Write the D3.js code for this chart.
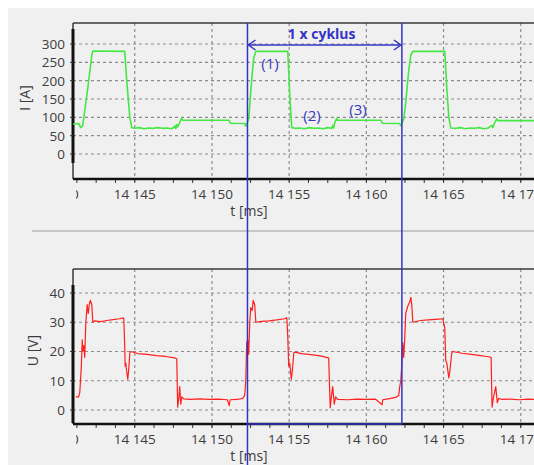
<!DOCTYPE html>
<html>
<head>
<meta charset="utf-8">
<script src="https://d3js.org/d3.v7.min.js"></script>
<style>
  body { margin: 0; background: #fff; }
  svg { display: block; font-family: "Open Sans", sans-serif; }
  .tick-label { font-size: 13.5px; fill: #3c3c3c; }
  .axis-title { font-size: 14px; fill: #3c3c3c; }
  .grid { stroke: #8c8c8c; stroke-width: 1.2; stroke-dasharray: 3,3; }
  .note { fill: #3838c4; font-size: 15px; }
</style>
</head>
<body>
<div id="chart"></div>
<script>
// time axis [ms]
const xTicks = [14140, 14145, 14150, 14155, 14160, 14165, 14170];
const xTickLabels = ["14 140", "14 145", "14 150", "14 155", "14 160", "14 165", "14 170"];

// current I [A]
const iTicks = [0, 50, 100, 150, 200, 250, 300];
const iTime = [
  14141.0, 14141.37, 14141.5, 14141.63, 14141.96, 14142.22, 14142.28, 14144.35, 14144.48, 14144.68, 14144.81,
  14145.0, 14145.3, 14145.6, 14145.9, 14146.2, 14146.5, 14146.8, 14147.1, 14147.35,
  14147.53, 14147.59, 14147.66, 14147.72, 14147.78, 14147.91, 14148.04, 14148.11, 14151.09, 14151.22,
  14152.12, 14152.19, 14152.25, 14152.38, 14152.57, 14152.7, 14152.84, 14154.91, 14155.04, 14155.17,
  14155.4, 14155.7, 14156.0, 14156.3, 14156.6, 14156.9, 14157.2, 14157.5,
  14157.76, 14157.82, 14157.89, 14157.95, 14158.08, 14158.15, 14160.93, 14161.06, 14162.16, 14162.23, 14162.29,
  14162.42, 14162.55, 14162.75, 14162.88, 14163.01, 14165.08, 14165.21, 14165.34, 14165.47,
  14165.8, 14166.1, 14166.4, 14166.7, 14167.0, 14167.3, 14167.6, 14167.9,
  14168.12, 14168.19, 14168.32, 14168.45, 14168.51, 14170.9
];
const iValue = [
  82, 83, 72, 78, 180, 270, 281, 280, 200, 100, 72,
  70, 72, 69, 71, 70, 72, 70, 71, 69,
  72, 77, 70, 80, 74, 86, 98, 92, 92, 84,
  83, 76, 82, 95, 200, 260, 280, 280, 160, 72,
  70, 71, 69, 72, 70, 71, 69, 72,
  70, 78, 71, 85, 97, 92, 92, 84, 83, 77, 83,
  95, 140, 230, 270, 280, 280, 180, 100, 71,
  70, 72, 69, 71, 70, 72, 69, 71,
  78, 72, 86, 96, 91, 91
];

// voltage U [V]
const uTicks = [0, 10, 20, 30, 40];
const uTime = [
  14141.18, 14141.37, 14141.44, 14141.54, 14141.6, 14141.63, 14141.7, 14141.76, 14141.83, 14141.92, 14141.99,
  14142.05, 14142.12, 14142.22, 14142.28, 14142.41, 14142.8, 14143.2, 14143.6, 14144.0, 14144.25,
  14144.29, 14144.35, 14144.38, 14144.42, 14144.48, 14144.55, 14144.61, 14144.68, 14144.74,
  14145.2, 14145.8, 14146.4, 14147.0, 14147.6, 14147.72, 14147.78, 14147.85, 14147.91, 14147.98, 14148.04, 14148.17,
  14148.6, 14149.2, 14149.8, 14150.4, 14151.0, 14151.12, 14151.18, 14151.6, 14152.0,
  14152.06, 14152.12, 14152.19, 14152.25, 14152.32, 14152.38, 14152.45, 14152.51, 14152.61, 14152.67, 14152.77, 14152.84,
  14153.2, 14153.7, 14154.2, 14154.7, 14154.85, 14154.91, 14154.97, 14155.04, 14155.14, 14155.2, 14155.3, 14155.36,
  14155.8, 14156.4, 14157.0, 14157.56, 14157.66, 14157.72, 14157.82, 14157.92, 14158.01, 14158.15,
  14158.8, 14159.4, 14160.0, 14160.6, 14161.02, 14161.06, 14161.5, 14161.9,
  14162.1, 14162.16, 14162.23, 14162.29, 14162.36, 14162.42, 14162.49, 14162.55, 14162.68, 14162.81, 14162.88, 14162.94, 14163.01,
  14163.5, 14164.0, 14164.5, 14164.95, 14165.08, 14165.14, 14165.21, 14165.34, 14165.4, 14165.53, 14165.6,
  14166.2, 14166.8, 14167.4, 14167.9, 14168.08, 14168.14, 14168.22, 14168.38, 14168.48, 14168.57, 14168.77,
  14169.3, 14169.9, 14170.5, 14170.9
];
const uValue = [
  4.5, 4.5, 6, 15, 24, 20, 22, 18, 30, 36, 33,
  36, 37.5, 36, 30, 30.5, 30.2, 30.6, 30.9, 31.2, 31.5,
  31.3, 22, 15, 16, 13, 10.5, 14, 19.5, 20,
  19.3, 19.0, 18.6, 18.3, 17.8, 17.5, 1, 4, 8, 2, 4.5, 3.8,
  3.6, 3.8, 3.6, 3.7, 3.5, 1.5, 3.5, 3.6, 4.0,
  4.5, 5, 10, 23, 24, 19, 30, 35, 34, 37.5, 36, 30,
  30.3, 30.5, 30.8, 31.2, 31.5, 25, 15, 16, 10.5, 13, 19.5, 19.8,
  19.3, 18.9, 18.5, 17.8, 0.8, 4, 8, 2, 4.5, 3.6,
  3.5, 3.7, 3.6, 3.7, 1.8, 3.5, 3.9, 4.3,
  5, 8, 10, 15, 23, 18, 25, 33, 35.5, 37, 38.5, 36, 30,
  30.6, 30.8, 31.0, 31.2, 28, 17, 16, 11, 13, 19.5, 20,
  19.4, 19.0, 18.6, 18.2, 18, 1, 4, 8, 2.5, 4, 3.6,
  3.7, 3.5, 3.7, 3.6
];

// one cycle, marked in blue
const cycleStart = 14152.3;
const cycleEnd = 14162.3;

const W = 534, H = 465;
const left = 73;
const x = d3.scaleLinear().domain([14141, 14171]).range([left, left + 30 * 15.44]);

const svg = d3.select("#chart").append("svg").attr("width", W).attr("height", H);

svg.append("rect").attr("x", 8).attr("y", 8).attr("width", W - 8).attr("height", H - 8).attr("fill", "#f0f0f0");
svg.append("line").attr("x1", 32).attr("x2", W).attr("y1", 231).attr("y2", 231)
  .attr("stroke", "#c6c6c6").attr("stroke-width", 2);

const defs = svg.append("defs");

function panel(id, cfg) {
  const y = d3.scaleLinear().domain(cfg.yDomain).range(cfg.yRange);
  const g = svg.append("g");

  defs.append("clipPath").attr("id", "clip-" + id).append("rect")
    .attr("x", left).attr("y", cfg.top).attr("width", W - left).attr("height", cfg.bottom - cfg.top);
  defs.append("clipPath").attr("id", "lab-" + id).append("rect")
    .attr("x", left + 3).attr("y", cfg.bottom).attr("width", W).attr("height", 40);

  // grid
  g.selectAll(".hg").data(cfg.ticks).join("line").attr("class", "grid")
    .attr("x1", left).attr("x2", W).attr("y1", d => y(d)).attr("y2", d => y(d));
  g.selectAll(".vg").data(xTicks.filter(d => x(d) > left + 2)).join("line").attr("class", "grid")
    .attr("x1", d => x(d)).attr("x2", d => x(d)).attr("y1", cfg.top).attr("y2", cfg.bottom + 4);

  // minor ticks on time axis
  const minor = d3.range(14140, 14172, 1.25).filter(d => x(d) > left + 2 && x(d) < W);
  g.selectAll(".mt").data(minor).join("line")
    .attr("x1", d => x(d)).attr("x2", d => x(d)).attr("y1", cfg.bottom).attr("y2", cfg.bottom + 4)
    .attr("stroke", "#333").attr("stroke-width", 1);

  // frame
  g.append("line").attr("x1", left).attr("x2", W).attr("y1", cfg.top).attr("y2", cfg.top)
    .attr("stroke", "#3a3a3a").attr("stroke-width", 1.5);
  g.append("line").attr("x1", left).attr("x2", left).attr("y1", cfg.top).attr("y2", cfg.bottom)
    .attr("stroke", "#3a3a3a").attr("stroke-width", 1.5);
  g.append("line").attr("x1", left).attr("x2", W).attr("y1", cfg.bottom).attr("y2", cfg.bottom)
    .attr("stroke", "#111").attr("stroke-width", 2.5);
  g.append("line").attr("x1", left).attr("x2", left).attr("y1", cfg.axisTop).attr("y2", cfg.axisBottom)
    .attr("stroke", "#111").attr("stroke-width", 3);

  // y ticks + labels
  g.selectAll(".yt").data(cfg.ticks).join("line")
    .attr("x1", left - 3).attr("x2", left).attr("y1", d => y(d)).attr("y2", d => y(d))
    .attr("stroke", "#333");
  g.selectAll(".yl").data(cfg.ticks).join("text").attr("class", "tick-label")
    .attr("x", 65).attr("y", d => y(d)).attr("dy", "0.36em").attr("text-anchor", "end")
    .text(d => d);

  // x labels
  g.append("g").attr("clip-path", "url(#lab-" + id + ")")
    .selectAll("text").data(xTicks).join("text").attr("class", "tick-label")
    .attr("x", d => x(d)).attr("y", cfg.bottom + 20).attr("text-anchor", "middle")
    .text((d, i) => xTickLabels[i]);

  g.append("text").attr("class", "axis-title")
    .attr("x", 249).attr("y", cfg.bottom + 37).attr("text-anchor", "middle").text("t [ms]");
  g.append("text").attr("class", "axis-title")
    .attr("transform", "translate(" + cfg.titleX + "," + ((cfg.top + cfg.bottom) / 2 + cfg.titleDy) + ") rotate(-90)")
    .attr("text-anchor", "middle").text(cfg.title);

  // signal
  const line = d3.line().x(d => x(d[0])).y(d => y(d[1]));
  g.append("path").attr("clip-path", "url(#clip-" + id + ")")
    .datum(cfg.time.map((t, i) => [t, cfg.values[i]]))
    .attr("d", line).attr("fill", "none")
    .attr("stroke", cfg.color).attr("stroke-width", cfg.width).attr("stroke-linejoin", "round");
  return y;
}

panel("i", {
  top: 23, bottom: 179, axisTop: 29, axisBottom: 163,
  yDomain: [0, 300], yRange: [154, 44], ticks: iTicks,
  time: iTime, values: iValue, color: "#44e844", width: 1.6,
  title: "I [A]", titleX: 30, titleDy: -3
});
panel("u", {
  top: 269, bottom: 424, axisTop: 285, axisBottom: 423,
  yDomain: [0, 40], yRange: [410, 293], ticks: uTicks,
  time: uTime, values: uValue, color: "#ff1f1f", width: 1.2,
  title: "U [V]", titleX: 38, titleDy: 4
});

// cycle marker
const blue = "#3434c4";
const xa = x(cycleStart), xb = x(cycleEnd);
svg.append("line").attr("x1", xa).attr("x2", xa).attr("y1", 23).attr("y2", H)
  .attr("stroke", blue).attr("stroke-width", 1.5);
svg.append("line").attr("x1", xb).attr("x2", xb).attr("y1", 23).attr("y2", 424)
  .attr("stroke", blue).attr("stroke-width", 1.5);
svg.append("line").attr("x1", xa).attr("x2", xb).attr("y1", 424).attr("y2", 424)
  .attr("stroke", blue).attr("stroke-width", 1.5);

const ay = 45;
svg.append("line").attr("x1", xa + 1).attr("x2", xb - 1).attr("y1", ay).attr("y2", ay)
  .attr("stroke", blue).attr("stroke-width", 1.5);
svg.append("path").attr("d", `M${xa + 8},${ay - 5}L${xa + 1},${ay}L${xa + 8},${ay + 5}`)
  .attr("fill", "none").attr("stroke", blue).attr("stroke-width", 1.5);
svg.append("path").attr("d", `M${xb - 8},${ay - 5}L${xb - 1},${ay}L${xb - 8},${ay + 5}`)
  .attr("fill", "none").attr("stroke", blue).attr("stroke-width", 1.5);
svg.append("text").attr("x", (xa + xb) / 2 - 3).attr("y", 39).attr("text-anchor", "middle")
  .attr("fill", blue).style("font-size", "14px").style("font-weight", "bold").text("1 x cyklus");

svg.append("text").attr("class", "note").attr("x", 270).attr("y", 69).attr("text-anchor", "middle").text("(1)");
svg.append("text").attr("class", "note").attr("x", 312).attr("y", 121).attr("text-anchor", "middle").text("(2)");
svg.append("text").attr("class", "note").attr("x", 358).attr("y", 115).attr("text-anchor", "middle").text("(3)");
</script>
</body>
</html>
